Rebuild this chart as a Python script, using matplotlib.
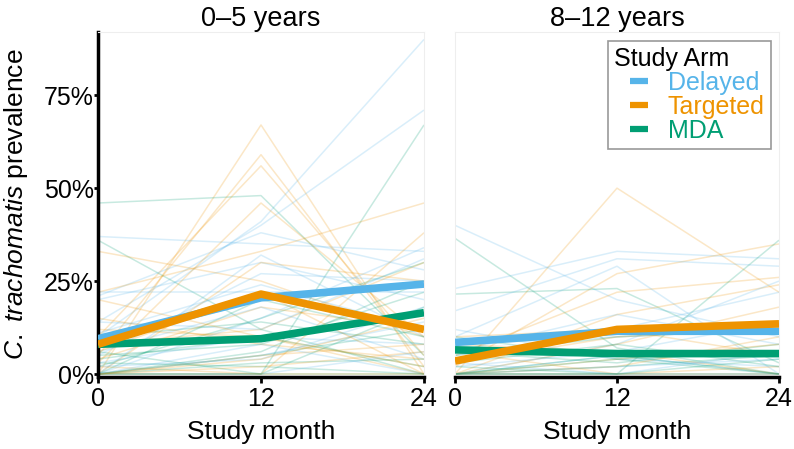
import matplotlib
matplotlib.use("Agg")
import matplotlib.pyplot as plt
from matplotlib.lines import Line2D
from matplotlib.ticker import PercentFormatter

plt.rcParams["font.family"] = ["Liberation Sans", "DejaVu Sans"]
plt.rcParams["mathtext.fontset"] = "custom"
plt.rcParams["mathtext.it"] = "Liberation Sans:italic"
plt.rcParams["mathtext.rm"] = "Liberation Sans"

MONTHS = [0, 12, 24]
ARMS = ["Delayed", "Targeted", "MDA"]
ARM_COLORS = {"Delayed": "#56B4E9", "Targeted": "#EE9300", "MDA": "#009E73"}
PANELS = ["0\u20135 years", "8\u201312 years"]

# community-level prevalence, ages 0-5 (month 0, 12, 24)
delayed_young = [
    [0.10, 0.41, 0.90], [0.14, 0.40, 0.71], [0.37, 0.35, 0.33], [0.21, 0.38, 0.28],
    [0.20, 0.30, 0.20], [0.22, 0.22, 0.22], [0.05, 0.27, 0.25], [0.00, 0.32, 0.10],
    [0.14, 0.12, 0.31], [0.08, 0.20, 0.24], [0.03, 0.10, 0.08], [0.00, 0.05, 0.14],
    [0.00, 0.15, 0.34], [0.06, 0.18, 0.04], [0.02, 0.04, 0.18], [0.00, 0.00, 0.06],
    [0.11, 0.24, 0.12], [0.00, 0.08, 0.00],
]
targeted_young = [
    [0.00, 0.67, 0.00], [0.05, 0.59, 0.02], [0.10, 0.56, 0.05], [0.03, 0.46, 0.10],
    [0.22, 0.33, 0.46], [0.33, 0.25, 0.10], [0.00, 0.30, 0.25], [0.08, 0.12, 0.30],
    [0.02, 0.00, 0.38], [0.12, 0.10, 0.00], [0.00, 0.05, 0.08], [0.04, 0.18, 0.12],
    [0.00, 0.00, 0.00], [0.15, 0.08, 0.04], [0.06, 0.22, 0.00], [0.00, 0.02, 0.06],
    [0.20, 0.10, 0.02], [0.00, 0.04, 0.15],
]
mda_young = [
    [0.46, 0.48, 0.05], [0.00, 0.00, 0.67], [0.36, 0.12, 0.00], [0.02, 0.15, 0.30],
    [0.05, 0.08, 0.22], [0.00, 0.05, 0.12], [0.03, 0.02, 0.00], [0.00, 0.00, 0.00],
    [0.10, 0.14, 0.08], [0.00, 0.20, 0.10], [0.06, 0.00, 0.18], [0.00, 0.03, 0.04],
    [0.04, 0.10, 0.02], [0.00, 0.06, 0.25],
]

# community-level prevalence, ages 8-12
delayed_old = [
    [0.40, 0.20, 0.10], [0.23, 0.33, 0.31], [0.17, 0.31, 0.29], [0.10, 0.29, 0.00],
    [0.05, 0.12, 0.22], [0.00, 0.08, 0.25], [0.12, 0.04, 0.02], [0.03, 0.00, 0.06],
    [0.00, 0.05, 0.00], [0.08, 0.10, 0.12], [0.00, 0.02, 0.04], [0.06, 0.16, 0.08],
    [0.00, 0.00, 0.00], [0.02, 0.06, 0.14],
]
targeted_old = [
    [0.00, 0.50, 0.22], [0.02, 0.27, 0.35], [0.05, 0.22, 0.26], [0.00, 0.16, 0.24],
    [0.10, 0.12, 0.05], [0.00, 0.08, 0.18], [0.06, 0.00, 0.02], [0.00, 0.02, 0.10],
    [0.08, 0.06, 0.00], [0.00, 0.00, 0.00], [0.03, 0.10, 0.12], [0.00, 0.04, 0.08],
]
mda_old = [
    [0.365, 0.07, 0.00], [0.215, 0.23, 0.03], [0.00, 0.00, 0.36], [0.10, 0.04, 0.00],
    [0.05, 0.10, 0.12], [0.00, 0.02, 0.05], [0.03, 0.08, 0.02], [0.00, 0.00, 0.00],
    [0.06, 0.03, 0.08], [0.00, 0.05, 0.00], [0.02, 0.00, 0.04], [0.00, 0.04, 0.06],
]

# arm means
mean_young = {"Delayed": [0.095, 0.205, 0.242],
              "Targeted": [0.080, 0.215, 0.120],
              "MDA": [0.080, 0.095, 0.165]}
mean_old = {"Delayed": [0.085, 0.115, 0.115],
            "Targeted": [0.035, 0.120, 0.135],
            "MDA": [0.065, 0.055, 0.055]}

communities = [
    {"Delayed": delayed_young, "Targeted": targeted_young, "MDA": mda_young},
    {"Delayed": delayed_old, "Targeted": targeted_old, "MDA": mda_old},
]
means = [mean_young, mean_old]

fig = plt.figure(figsize=(7.94, 4.49), dpi=100)
ax1 = fig.add_axes([98 / 794, 1 - 377 / 449, 326 / 794, 345 / 449])
ax2 = fig.add_axes([455 / 794, 1 - 377 / 449, 324 / 794, 345 / 449])

for i, ax in enumerate((ax1, ax2)):
    # thin community trajectories, interleaved by arm
    n_max = max(len(v) for v in communities[i].values())
    for k in range(n_max):
        for arm in ARMS:
            rows = communities[i][arm]
            if k < len(rows):
                ax.plot(MONTHS, rows[k], color=ARM_COLORS[arm], lw=1.1,
                        alpha=0.22, solid_capstyle="butt", zorder=2)
    for arm in ["Delayed", "MDA", "Targeted"]:
        ax.plot(MONTHS, means[i][arm], color=ARM_COLORS[arm], lw=5.5,
                solid_capstyle="butt", zorder=5)

    ax.set_xlim(0, 24)
    ax.set_ylim(-0.008, 0.92)
    ax.set_xticks(MONTHS)
    ax.set_yticks([0, 0.25, 0.5, 0.75])
    ax.yaxis.set_major_formatter(PercentFormatter(1.0, decimals=0))
    ax.set_title(PANELS[i], fontsize=19.5, pad=4)
    ax.set_xlabel("Study month", fontsize=19, labelpad=7)
    ax.tick_params(axis="x", labelsize=18, length=4, width=2, pad=3)
    ax.tick_params(axis="y", labelsize=18, length=3, width=2, pad=0)
    for side in ("top", "right", "left"):
        ax.spines[side].set_color("#eeeeee")
        ax.spines[side].set_linewidth(0.8)
    ax.spines["bottom"].set_color("black")
    ax.spines["bottom"].set_linewidth(2.5)

ax1.spines["left"].set_color("black")
ax1.spines["left"].set_linewidth(2.5)
ax1.set_ylabel(r"$\it{C.\ trachomatis}$ prevalence", fontsize=19, labelpad=10)
ax2.tick_params(axis="y", left=False, labelleft=False)

handles = [Line2D([0], [0], color=ARM_COLORS[a], ls="none", marker="_",
                  markersize=13, markeredgewidth=4.5) for a in ARMS]
leg = ax2.legend(handles, ARMS, title="Study Arm", loc="upper right",
                 bbox_to_anchor=(0.975, 0.975), fontsize=18, title_fontsize=18,
                 handlelength=2.0, handletextpad=0.15, labelspacing=0.0,
                 borderpad=0.25, borderaxespad=0.0, fancybox=False,
                 framealpha=1, edgecolor="#999999")
leg.get_frame().set_linewidth(1.2)
leg._legend_box.align = "left"
for txt, arm in zip(leg.get_texts(), ARMS):
    txt.set_color(ARM_COLORS[arm])

fig.savefig("out.png", dpi=100)
